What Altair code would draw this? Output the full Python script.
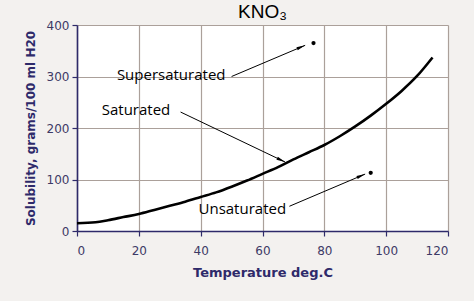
import math
import altair as alt
import pandas as pd

# KNO3 solubility curve (g / 100 ml water) against temperature (deg C)
temps = [0, 6, 10, 15, 20, 25, 30, 35, 40, 45, 50, 55, 60, 65, 70, 75, 80, 85, 90, 95, 100, 105, 110, 115]
solubility = [15, 17, 21, 27, 33, 41, 49, 57, 66, 75, 86, 98, 111, 124, 139, 153, 167, 184, 203, 224, 247, 272, 301, 337]

# Example solutions marked on the chart
dot_temp = [76.5, 95]
dot_sol = [365, 113]

# Annotation labels and their arrows (start -> tip, in data units)
label_text = ["Supersaturated", "Saturated", "Unsaturated"]
label_x = [12.9, 8.0, 39.3]
label_y = [302, 234, 42]
arrow_x0 = [50.0, 33.5, 68.7]
arrow_y0 = [300, 231, 48]
arrow_x1 = [73.8, 67.3, 93.2]
arrow_y1 = [360.5, 134, 110.5]

W, H = 371, 206
X_MAX, Y_MAX = 120, 400

curve = pd.DataFrame({"t": temps, "s": solubility})
dots = pd.DataFrame({"t": dot_temp, "s": dot_sol})
labels = pd.DataFrame({"t": label_x, "s": label_y, "txt": label_text})

# arrowhead rotation follows each arrow's on-screen direction
angles = []
for x0, y0, x1, y1 in zip(arrow_x0, arrow_y0, arrow_x1, arrow_y1):
    dx = (x1 - x0) * W / X_MAX
    dy = -(y1 - y0) * H / Y_MAX
    angles.append(math.degrees(math.atan2(dx, -dy)) % 360)
arrows = pd.DataFrame({"x0": arrow_x0, "y0": arrow_y0, "x1": arrow_x1, "y1": arrow_y1, "ang": angles})

AXIS_COLOR = "#2e2a6a"
LABEL_COLOR = "#3d3a66"
GRID_COLOR = "#aba09a"

xs = alt.Scale(domain=[0, X_MAX], nice=False)
ys = alt.Scale(domain=[0, Y_MAX], nice=False)

x_axis = alt.Axis(
    values=list(range(0, 121, 20)), title="Temperature  deg.C",
    labelFont="DejaVu Sans", labelFontSize=12, labelColor=LABEL_COLOR, labelPadding=9,
    titleFont="DejaVu Sans", titleFontSize=13, titleFontWeight="bold", titleColor=AXIS_COLOR,
    titlePadding=10, domainColor=AXIS_COLOR, domainWidth=1.6, tickColor=AXIS_COLOR, tickSize=5,
    tickWidth=1.2, gridColor=GRID_COLOR, gridWidth=1.2, gridOpacity=1,
)
y_axis = alt.Axis(
    values=list(range(0, 401, 50)), title="Solubility, grams/100 ml H20",
    labelFont="DejaVu Sans", labelFontSize=12, labelColor=LABEL_COLOR, labelPadding=3,
    titleFont="DejaVu Sans", titleFontSize=12, titleFontWeight="bold", titleColor=AXIS_COLOR,
    titlePadding=9, domainColor=AXIS_COLOR, domainWidth=1.6, tickColor=AXIS_COLOR, tickSize=5,
    tickWidth=1.2, gridColor=GRID_COLOR, gridWidth=1.2, gridOpacity=1,
)

line = alt.Chart(curve).mark_line(color="black", strokeWidth=2.6, interpolate="monotone").encode(
    x=alt.X("t:Q", scale=xs, axis=x_axis),
    y=alt.Y("s:Q", scale=ys, axis=y_axis),
)

pts = alt.Chart(dots).mark_circle(color="black", size=18, opacity=1).encode(
    x=alt.X("t:Q", scale=xs), y=alt.Y("s:Q", scale=ys)
)

shafts = alt.Chart(arrows).mark_rule(color="black", strokeWidth=1).encode(
    x=alt.X("x0:Q", scale=xs), y=alt.Y("y0:Q", scale=ys), x2="x1:Q", y2="y1:Q"
)

heads = alt.Chart(arrows).mark_point(
    shape="M0,0L0.3,1.6L-0.3,1.6Z", filled=True, color="black", size=120, opacity=1
).encode(
    x=alt.X("x1:Q", scale=xs), y=alt.Y("y1:Q", scale=ys), angle=alt.Angle("ang:Q", scale=None)
)

texts = alt.Chart(labels).mark_text(
    font="Open Sans", fontSize=15, color="black", align="left", baseline="middle"
).encode(x=alt.X("t:Q", scale=xs), y=alt.Y("s:Q", scale=ys), text="txt:N")

chart = (
    alt.layer(line, shafts, heads, pts, texts)
    .properties(
        width=W, height=H,
        title=alt.Title("KNO₃", font="Liberation Sans", fontSize=19, fontWeight="normal",
                        color="black", offset=-3, anchor="middle"),
        padding={"left": 77, "top": 25, "right": 26, "bottom": 70},
        autosize=alt.AutoSizeParams(type="none"),
        background="#f3f1ef",
    )
    .configure_view(fill="white", stroke=None)
)

chart.save("out.html", embed_options={"renderer": "svg", "actions": False})
